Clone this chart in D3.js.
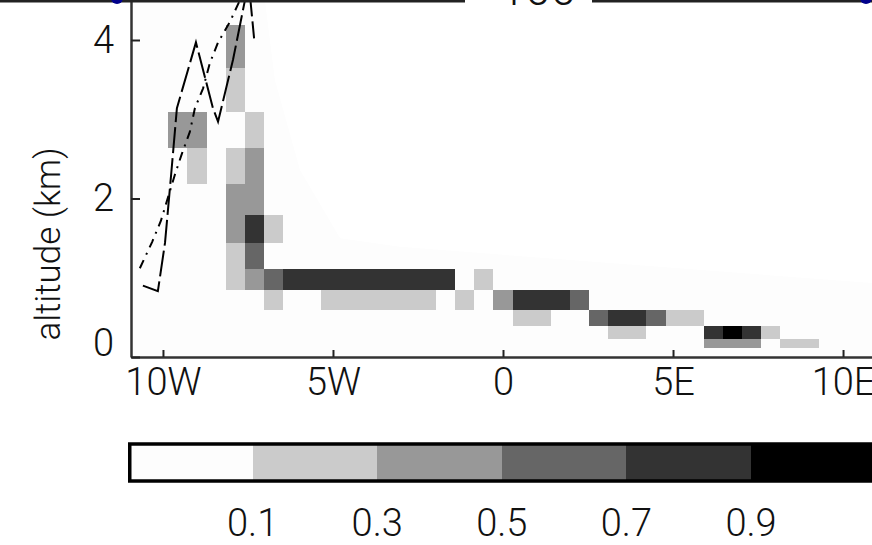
<!DOCTYPE html>
<html>
<head>
<meta charset="utf-8">
<script src="https://cdn.jsdelivr.net/npm/d3@7"></script>
<style>
  html, body { margin: 0; padding: 0; background: #fff; overflow: hidden; }
  svg text { font-family: Roboto, "DejaVu Sans", sans-serif; font-weight: 300; fill: #111; }
</style>
</head>
<body>
<svg id="chart" width="872" height="545"></svg>
<script>
// ---- axis ticks -------------------------------------------------------
const lonTicks = [-10, -5, 0, 5, 10];
const lonTickLabels = ["10W", "5W", "0", "5E", "10E"];
const altTicks = [0, 2, 4];

// ---- vertical model levels (km) and horizontal grid spacing (deg) -------
const levelEdges = [0, 0.114, 0.227, 0.39, 0.593, 0.845, 1.11, 1.44, 1.79, 2.18, 2.64, 3.09, 3.65, 4.19];
const lonStep = 0.5625;

// ---- occurrence fraction per cell: [column index, level index, value] ----
const cells = [
  [-17, 10, 0.4], [-16, 10, 0.4], [-16, 9, 0.2],
  [-14, 12, 0.4], [-14, 11, 0.2], [-14, 9, 0.2], [-14, 8, 0.4], [-14, 7, 0.4], [-14, 6, 0.2], [-14, 5, 0.2],
  [-13, 10, 0.2], [-13, 9, 0.4], [-13, 8, 0.4], [-13, 7, 0.8], [-13, 6, 0.6], [-13, 5, 0.4],
  [-12, 7, 0.2], [-12, 5, 0.6], [-12, 4, 0.2],
  [-11, 5, 0.8], [-10, 5, 0.8], [-9, 5, 0.8], [-8, 5, 0.8], [-7, 5, 0.8], [-6, 5, 0.8], [-5, 5, 0.8], [-4, 5, 0.8], [-3, 5, 0.8],
  [-9, 4, 0.2], [-8, 4, 0.2], [-7, 4, 0.2], [-6, 4, 0.2], [-5, 4, 0.2], [-4, 4, 0.2],
  [-2, 4, 0.2], [-1, 5, 0.2],
  [0, 4, 0.4], [1, 4, 0.8], [2, 4, 0.8], [3, 4, 0.8], [4, 4, 0.6],
  [1, 3, 0.2], [2, 3, 0.2],
  [5, 3, 0.6], [6, 3, 0.8], [7, 3, 0.8], [8, 3, 0.6], [9, 3, 0.2], [10, 3, 0.2],
  [6, 2, 0.2], [7, 2, 0.2],
  [11, 2, 0.8], [12, 2, 0.95], [13, 2, 0.8], [14, 2, 0.2],
  [11, 1, 0.4], [12, 1, 0.4], [13, 1, 0.4],
  [15, 1, 0.2], [16, 1, 0.2]
];

// ---- colour classes ---------------------------------------------------
const colorBreaks = [0.1, 0.3, 0.5, 0.7, 0.9];
const colorLabels = ["0.1", "0.3", "0.5", "0.7", "0.9"];
const grays = ["#fdfdfd", "#cbcbcb", "#989898", "#666666", "#333333", "#000000"];

// ---- upper limit of the sampled region (lon, alt) ----------------------
const coverLon = [-10.94, -7.44, -6.71, -5.97, -4.79, -3.03, 10.94, 10.94, -10.94];
const coverAlt = [6.0, 6.0, 3.50, 2.36, 1.50, 1.39, 0.93, 0, 0];

// ---- height curves (lon, alt) -----------------------------------------
const dashLon = [-10.59, -10.15, -9.94, -9.76, -9.59, -9.03, -8.53, -8.38, -7.94, -7.59, -7.47, -7.32];
const dashAlt = [0.90, 0.83, 1.44, 2.30, 3.14, 3.97, 3.14, 2.97, 3.75, 4.50, 4.69, 4.02];
const dashDotLon = [-10.68, -10.32, -10.06, -9.65, -9.44, -9.21, -9.06, -8.82, -8.62, -8.38, -8.03, -7.74];
const dashDotAlt = [1.12, 1.45, 1.72, 2.30, 2.57, 2.84, 3.14, 3.39, 3.71, 3.97, 4.23, 4.50];

// ---- scales -------------------------------------------------------------
const svg = d3.select("#chart");
const x = d3.scaleLinear().domain([-10.94, 10.94]).range([131, 875]);
const y = d3.scaleLinear().domain([0, 5]).range([357, -39.25]);
const color = d3.scaleThreshold().domain(colorBreaks).range(grays);

svg.append("defs").append("clipPath").attr("id", "plotClip")
  .append("rect").attr("x", x.range()[0]).attr("y", y.range()[1])
  .attr("width", x.range()[1] - x.range()[0]).attr("height", y.range()[0] - y.range()[1]);

const plot = svg.append("g").attr("clip-path", "url(#plotClip)");

// sampled region
plot.append("path")
  .datum(d3.zip(coverLon, coverAlt))
  .attr("d", d3.line().x(d => x(d[0])).y(d => y(d[1])))
  .attr("fill", grays[0]).attr("stroke", "none");

// grid cells
plot.selectAll("rect.cell").data(cells).join("rect")
  .attr("class", "cell")
  .attr("x", d => x((d[0] - 0.5) * lonStep))
  .attr("width", d => x((d[0] + 0.5) * lonStep) - x((d[0] - 0.5) * lonStep))
  .attr("y", d => y(levelEdges[d[1] + 1]))
  .attr("height", d => y(levelEdges[d[1]]) - y(levelEdges[d[1] + 1]))
  .attr("fill", d => color(d[2]))
  .attr("shape-rendering", "crispEdges");

// height curves
const curve = d3.line().x(d => x(d[0])).y(d => y(d[1]));
plot.append("path").datum(d3.zip(dashLon, dashAlt))
  .attr("d", curve).attr("fill", "none").attr("stroke", "#000")
  .attr("stroke-width", 2).attr("stroke-dasharray", "26,5");
plot.append("path").datum(d3.zip(dashDotLon, dashDotAlt))
  .attr("d", curve).attr("fill", "none").attr("stroke", "#000")
  .attr("stroke-width", 2).attr("stroke-dasharray", "9,6,2,6");

// ---- axes -----------------------------------------------------------
const fs = 38;
const xAxis = svg.append("g").attr("transform", `translate(0,${y(0)})`)
  .call(d3.axisBottom(x).tickValues(lonTicks)
    .tickFormat((d, i) => lonTickLabels[i])
    .tickSizeInner(-7).tickSizeOuter(0).tickPadding(11));
const yAxis = svg.append("g").attr("transform", `translate(${x.range()[0]},0)`)
  .call(d3.axisLeft(y).tickValues(altTicks).tickFormat(d3.format("d"))
    .tickSizeInner(-9).tickSizeOuter(0).tickPadding(17));

[xAxis, yAxis].forEach(g => {
  g.select(".domain").attr("stroke", "#333").attr("stroke-width", 2.5);
  g.selectAll(".tick line").attr("stroke", "#222").attr("stroke-width", 2);
  g.selectAll(".tick text").attr("font-size", fs).attr("font-family", null).attr("fill", null);
});
// lowest altitude label sits above the corner
yAxis.selectAll(".tick text").filter(d => d === 0).attr("dy", "-0.05em");

svg.append("text")
  .attr("transform", `translate(60,244) rotate(-90)`)
  .attr("text-anchor", "middle")
  .attr("font-size", 35)
  .text("altitude (km)");

// ---- colour bar --------------------------------------------------------
const cb = d3.scaleBand().domain(d3.range(grays.length)).range([128, 875.6]);
const cbTop = 444, cbH = 37;
const cbar = svg.append("g");
cbar.selectAll("rect.seg").data(grays).join("rect")
  .attr("class", "seg")
  .attr("x", (d, i) => cb(i)).attr("width", cb.bandwidth())
  .attr("y", cbTop).attr("height", cbH)
  .attr("fill", d => d).attr("shape-rendering", "crispEdges");
cbar.append("rect")
  .attr("x", cb.range()[0] + 1.75).attr("y", cbTop)
  .attr("width", cb.range()[1] - cb.range()[0]).attr("height", cbH)
  .attr("fill", "none").attr("stroke", "#000").attr("stroke-width", 3.5);
cbar.selectAll("text").data(colorLabels).join("text")
  .attr("x", (d, i) => cb(i + 1))
  .attr("y", 536)
  .attr("text-anchor", "middle")
  .attr("font-size", fs)
  .text(d => d);

// ---- frame of the panel above --------------------------------------------
const header = svg.append("g");
header.append("line").attr("x1", 0).attr("x2", 465).attr("y1", 1).attr("y2", 1)
  .attr("stroke", "#222").attr("stroke-width", 3);
header.append("line").attr("x1", 592).attr("x2", 872).attr("y1", 1).attr("y2", 1)
  .attr("stroke", "#222").attr("stroke-width", 3);
header.append("text").attr("x", 538).attr("y", 5).attr("text-anchor", "middle")
  .attr("font-size", 46).text("100");
header.selectAll("circle").data([117, 866]).join("circle")
  .attr("cx", d => d).attr("cy", -2).attr("r", 6).attr("fill", "#00008b");
</script>
</body>
</html>
